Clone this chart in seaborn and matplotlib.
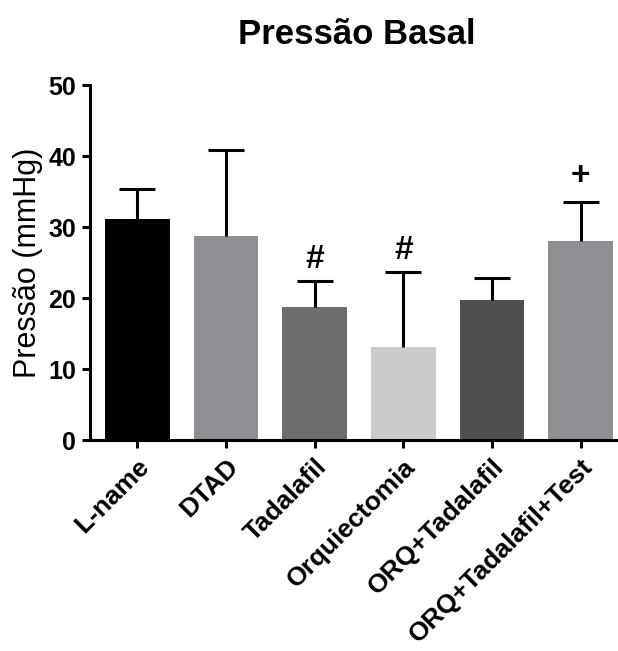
import matplotlib
matplotlib.use("Agg")
import matplotlib.pyplot as plt
import seaborn as sns
import pandas as pd

# ── Data ───────────────────────────────────────────────────────────────────────
groups = ["L-name", "DTAD", "Tadalafil", "Orquiectomia",
          "ORQ+Tadalafil", "ORQ+Tadalafil+Test"]
means = [31.2, 28.8, 18.8, 13.1, 19.8, 28.1]
errors = [4.2, 12.0, 3.6, 10.6, 3.0, 5.5]
marks = ["", "", "#", "#", "", "+"]
colors = ["#000000", "#8f8e93", "#6d6d6d", "#cbcbcb", "#4f4f4f", "#8f8e93"]

df = pd.DataFrame({"grupo": groups, "pressao": means})

# ── Style ──────────────────────────────────────────────────────────────────────
sns.set_style("ticks", {"axes.edgecolor": "black", "text.color": "black",
                        "axes.labelcolor": "black", "xtick.color": "black",
                        "ytick.color": "black"})
plt.rcParams["font.family"] = ["Liberation Sans", "DejaVu Sans"]

fig = plt.figure(figsize=(6.18, 6.51), dpi=100)
ax = fig.add_axes([0.1456, 0.3234, 0.854, 0.546])

sns.barplot(data=df, x="grupo", y="pressao", hue="grupo", palette=colors,
            width=0.73, errorbar=None, legend=False, saturation=1,
            linewidth=0, ax=ax)

# upper-only error bars (SEM)
_, caps, _ = ax.errorbar(range(len(groups)), means,
                         yerr=[[0] * len(errors), errors],
                         fmt="none", ecolor="black", elinewidth=2.2,
                         capsize=13, capthick=2.2, zorder=3)
caps[0].set_visible(False)  # no cap at the bar top

# significance marks
for i, (m, e, s) in enumerate(zip(means, errors, marks)):
    if s:
        ax.text(i, m + e + (0.9 if s == "#" else 1.4), s, ha="center",
                va="bottom", fontsize=24, fontweight="bold")

ax.set_xlim(-0.535, 5.42)
ax.set_ylim(0, 50)
ax.set_yticks([0, 10, 20, 30, 40, 50])
sns.despine(ax=ax)
for side in ["left", "bottom"]:
    ax.spines[side].set_linewidth(2.2)
ax.tick_params(axis="both", width=2.2, length=6, labelsize=18, pad=4)
for lab in ax.get_yticklabels():
    lab.set_fontweight("bold")
ax.set_xticks(range(len(groups)))
ax.set_xticklabels(groups, rotation=45, ha="right", rotation_mode="anchor",
                   fontweight="bold", fontsize=19)

ax.set_xlabel("")
ax.set_ylabel("Pressão (mmHg)", fontsize=22, labelpad=4)
fig.suptitle("Pressão Basal", x=0.578, y=0.972, fontsize=25, fontweight="bold",
             va="top")

plt.savefig("out.png", dpi=100)
plt.close()
